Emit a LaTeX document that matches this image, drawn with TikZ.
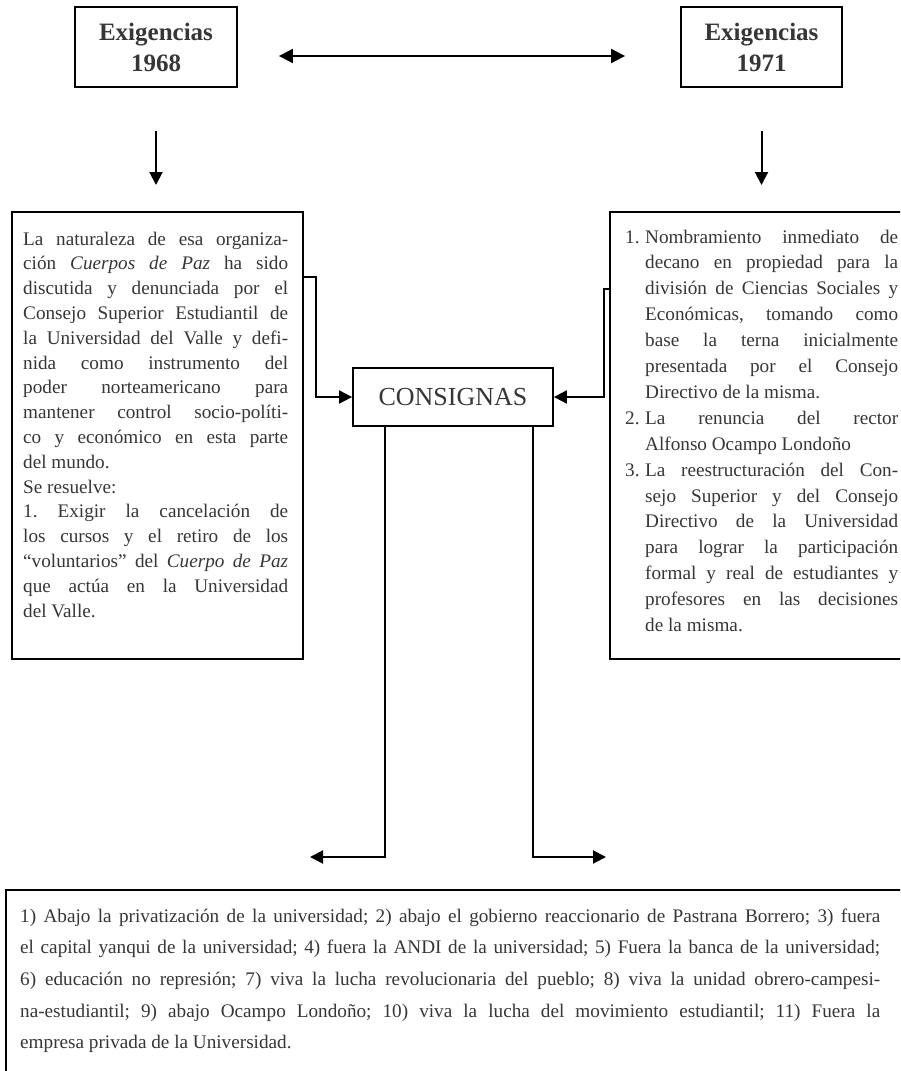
\documentclass[tikz,border=0pt]{standalone}
\usepackage{fontspec}
\setmainfont{Liberation Serif}
\usetikzlibrary{arrows.meta}
\definecolor{ink}{HTML}{363636}
\frenchspacing
\newcommand{\Jl}[1]{\par\hbox to \hsize{#1}}
\newcommand{\Rl}[1]{\par\hbox to \hsize{#1\hfil}}
\newcommand{\Ji}[2]{\par\hbox to \hsize{\hbox to 20pt{#1\hfil}\hbox to \dimexpr\hsize-20pt\relax{#2}}}
\newcommand{\Rri}[2]{\par\hbox to \hsize{\hbox to 20pt{#1\hfil}#2\hfil}}
\newcommand{\Blk}[3]{\vtop{\hsize=#1\baselineskip=#2\lineskiplimit=0pt #3}}
\begin{document}
\begin{tikzpicture}[x=1pt,y=-1pt,
  box/.style={draw=black, line width=1.8pt, inner sep=0},
  arr/.style={line width=2pt, -{Triangle[length=13pt,width=13pt]}},
  dbl/.style={line width=2pt, {Triangle[length=14pt,width=14pt]}-{Triangle[length=14pt,width=14pt]}},
  body/.style={inner sep=0, text=ink, anchor=base west, font={\fontsize{19.2}{25}\selectfont\frenchspacing}}]
\useasboundingbox (0,0) rectangle (900,1071);
\clip (0,0) rectangle (900,1071);

% top boxes
\node[box, minimum width=162pt, minimum height=80pt, align=center, text=ink,
      font={\fontsize{25}{31}\selectfont\bfseries}] (ex68) at (156,47) {Exigencias\\1968};
\node[box, minimum width=161pt, minimum height=80pt, align=center, text=ink,
      font={\fontsize{25}{31}\selectfont\bfseries}] (ex71) at (761.5,47) {Exigencias\\1971};

% left text box
\node[box, minimum width=291pt, minimum height=447pt, anchor=north west] (box68) at (11,211) {};
\node[body] (t68) at (23,245) {\Blk{265pt}{24.8pt}{%
\Jl{La naturaleza de esa organiza-}%
\Jl{ción \textit{Cuerpos de Paz} ha sido}%
\Jl{discutida y denunciada por el}%
\Jl{Consejo Superior Estudiantil de}%
\Jl{la Universidad del Valle y defi-}%
\Jl{nida como instrumento del}%
\Jl{poder norteamericano para}%
\Jl{mantener control socio-políti-}%
\Jl{co y económico en esta parte}%
\Rl{del mundo.}%
\Rl{Se resuelve:}%
\Jl{1. Exigir la cancelación de}%
\Jl{los cursos y el retiro de los}%
\Jl{“voluntarios” del \textit{Cuerpo de Paz}}%
\Jl{que actúa en la Universidad}%
\Rl{del Valle.}}};

% right text box
\node[box, minimum width=303pt, minimum height=447pt, anchor=north west] (box71) at (609,211) {};
\node[body] (t71) at (625,243) {\Blk{273pt}{25.9pt}{%
\Ji{1.}{Nombramiento inmediato de}%
\Ji{}{decano en propiedad para la}%
\Ji{}{división de Ciencias Sociales y}%
\Ji{}{Económicas, tomando como}%
\Ji{}{base la terna inicialmente}%
\Ji{}{presentada por el Consejo}%
\Rri{}{Directivo de la misma.}%
\Ji{2.}{La renuncia del rector}%
\Rri{}{Alfonso Ocampo Londoño}%
\Ji{3.}{La reestructuración del Con-}%
\Ji{}{sejo Superior y del Consejo}%
\Ji{}{Directivo de la Universidad}%
\Ji{}{para lograr la participación}%
\Ji{}{formal y real de estudiantes y}%
\Ji{}{profesores en las decisiones}%
\Rri{}{de la misma.}}};

% central box
\node[box, minimum width=200pt, minimum height=58pt, text=ink,
      font={\fontsize{26}{30}\selectfont}] (cons) at (453,397) {CONSIGNAS};

% bottom box
\node[box, minimum width=910pt, minimum height=200pt, anchor=north west] (box3) at (5,889) {};
\node[body] (t3) at (20,922) {\Blk{860pt}{31.7pt}{%
\Jl{1) Abajo la privatización de la universidad; 2) abajo el gobierno reaccionario de Pastrana Borrero; 3) fuera}%
\Jl{el capital yanqui de la universidad; 4) fuera la ANDI de la universidad; 5) Fuera la banca de la universidad;}%
\Jl{6) educación no represión; 7) viva la lucha revolucionaria del pueblo; 8) viva la unidad obrero-campesi-}%
\Jl{na-estudiantil; 9) abajo Ocampo Londoño; 10) viva la lucha del movimiento estudiantil; 11) Fuera la}%
\Rl{empresa privada de la Universidad.}}};

% connectors
\draw[dbl] ([xshift=41pt,yshift=-9pt]ex68.east) -- ([xshift=-55pt,yshift=-9pt]ex71.west);
\draw[arr] ([yshift=-43pt]ex68.south) -- ([yshift=26pt]box68.north -| ex68.south);
\draw[arr] ([yshift=-43pt]ex71.south) -- ([yshift=26pt]box71.north -| ex71.south);
\draw[arr] ([yshift=-66pt]box68.north east) -- ++(12,0) |- (cons.west);
\draw[arr] ([yshift=-78pt]box71.north west) -- ++(-5,0) |- (cons.east);
\coordinate (bl) at (310,857);
\coordinate (br) at (606,857);
\draw[arr] ([xshift=-68pt]cons.south) |- (bl);
\draw[arr] ([xshift=80pt]cons.south) |- (br);
\end{tikzpicture}
\end{document}
